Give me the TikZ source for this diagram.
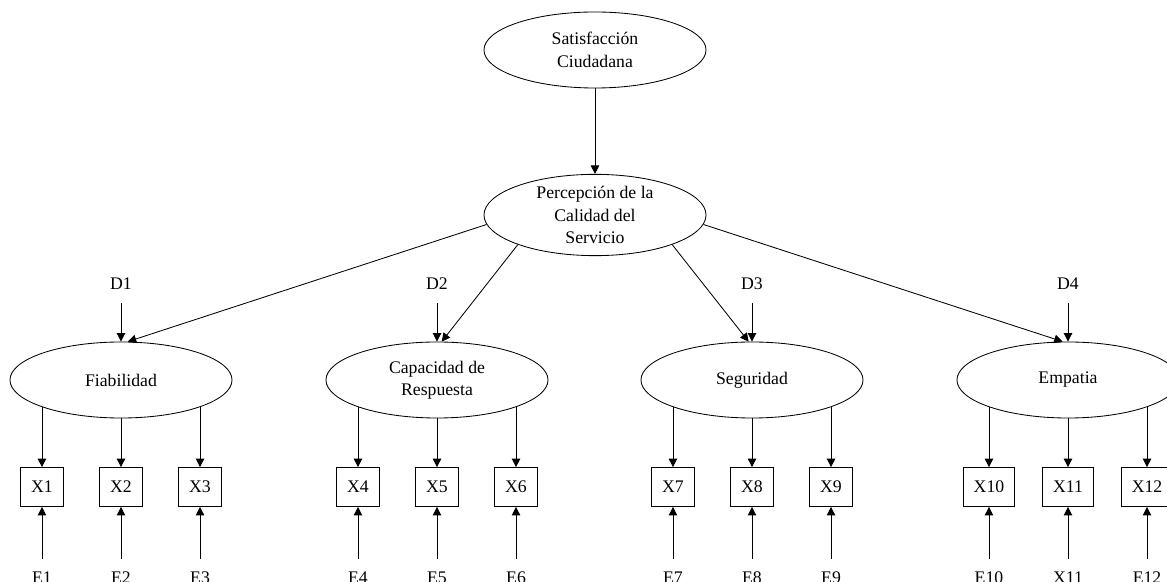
\documentclass[tikz,border=0pt]{standalone}
\usepackage{fontspec}
\setmainfont{Liberation Serif}
\usepackage{tikz}
\usetikzlibrary{arrows.meta}
\usetikzlibrary{positioning}
\usetikzlibrary{shapes.geometric}
\tikzset{
    latente/.style = {ellipse, draw, minimum width=5.55cm, minimum height=1.9cm, inner sep=0pt, align=center},
    indicador/.style = {rectangle, draw, minimum height=0.975cm, inner xsep=7.5pt},
    etiqueta/.style = {inner sep=0pt, outer sep=9.5pt},
    >={Triangle[length=6pt, width=6pt]}
}
\begin{document}
\begin{tikzpicture}[x=0.025cm, y=-0.025cm, on grid, line width=0.6pt, font=\fontsize{12.6pt}{16pt}\selectfont]
                \useasboundingbox (0,0) rectangle (1167,582);
                \clip (0,0) rectangle (1167,582);
                \node (sat) [latente] at (595,50) {Satisfacción\\Ciudadana};
                \node (per) [latente] at (595,215) {Percepción de la\\Calidad del\\Servicio};
                \node (L1) [latente] at (121,380) {Fiabilidad};
                \node (L2) [latente] at (437,380) {Capacidad de\\Respuesta};
                \node (L3) [latente] at (752,380) {Seguridad};
                \node (L4) [latente] at (1068,380) {Empatia};
                \draw[->] (sat) -- (per);
                \draw[->] (per.185) -- (L1.80);
                \draw[->] (per.201) -- (L2.83);
                \draw[->] (per.339) -- (L3.95);
                \draw[->] (per.355) -- (L4.98);
                % perturbaciones, indicadores y errores
                \foreach \l/\a/\b/\c/\t in {1/1/2/3/E2, 2/4/5/6/E5, 3/7/8/9/E8, 4/10/11/12/X11} {
                    \node (D\l) [etiqueta, above=2.4cm of L\l] {D\l};
                    \node (X\b) [indicador, below=2.675cm of L\l] {X\b};
                    \node (X\a) [indicador, left=1.975cm of X\b] {X\a};
                    \node (X\c) [indicador, right=1.975cm of X\b] {X\c};
                    \node (E\a) [etiqueta, below=2.275cm of X\a] {E\a};
                    \node (E\b) [etiqueta, below=2.275cm of X\b] {\t};
                    \node (E\c) [etiqueta, below=2.275cm of X\c] {E\c};
                    \draw[->] (D\l) -- (L\l.north);
                    \draw[->] (L\l.199 -| X\a) -- (X\a.north);
                    \draw[->] (L\l.south) -- (X\b.north);
                    \draw[->] (L\l.341 -| X\c) -- (X\c.north);
                    \path[->] (E\a) edge (X\a) (E\b) edge (X\b) (E\c) edge (X\c);
                }
            \end{tikzpicture}
\end{document}
